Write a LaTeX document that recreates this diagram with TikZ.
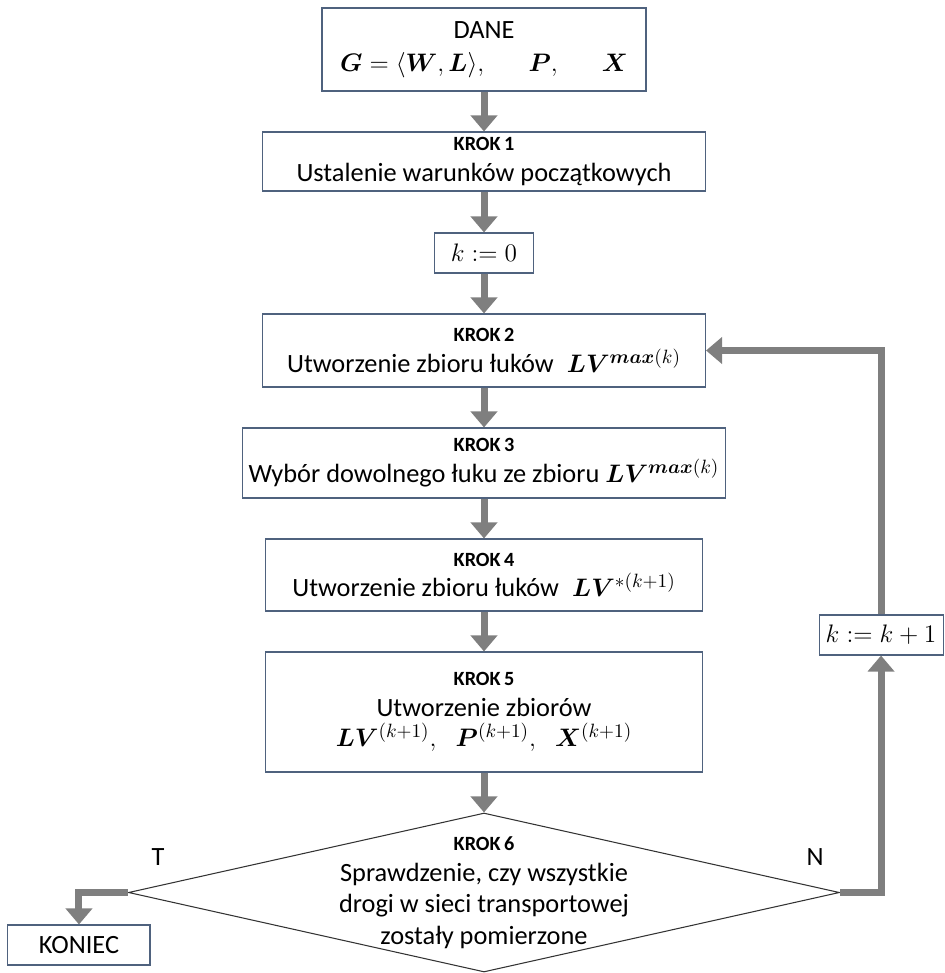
\documentclass[tikz,border=0pt]{standalone}
\usepackage{amsmath,bm}
\usepackage{fontspec}
\setmainfont{Carlito}
\usetikzlibrary{shapes.geometric}
\usetikzlibrary{arrows.meta}
\usetikzlibrary{calc}

\definecolor{ramka}{RGB}{79,98,126}
\definecolor{szary}{RGB}{127,127,127}
\newcommand{\kroknr}[1]{{\fontsize{11.5}{13}\selectfont\bfseries KROK\,#1}}
\newcommand{\wzor}{\fontsize{15}{18}\selectfont}

\begin{document}
\begin{tikzpicture}[
        krok/.style={draw=ramka, line width=0.6pt, rectangle, align=center,
            inner sep=1mm, font=\fontsize{15}{17.5}\selectfont},
        strz/.style={draw=szary, line width=0.14cm,
            -{Triangle[width=0.52cm,length=0.32cm]}},
        opis/.style={align=center, font=\fontsize{15}{17.8}\selectfont}
    ]
        \useasboundingbox (0,0) rectangle (18.88,-19.46);
        % kolumna glowna
        \node[krok, minimum width=6.48cm, minimum height=1.66cm] (dane)
            at (9.68,-0.99) {DANE\\[1pt] \wzor $\bm{G}=\langle\bm{W},\bm{L}\rangle,
            \hspace{0.8cm}\bm{P},\hspace{0.8cm}\bm{X}$};
        \node[krok, minimum width=8.86cm, minimum height=1.18cm,
            node distance=2.24cm, below of=dane] (k1)
            {\kroknr{1}\\ Ustalenie warunków początkowych};
        \node[krok, minimum width=1.98cm, minimum height=0.8cm,
            node distance=1.83cm, below of=k1] (k0) {\wzor $k:=0$};
        \node[krok, minimum width=8.86cm, minimum height=1.46cm,
            node distance=1.95cm, below of=k0] (k2)
            {\kroknr{2}\\ Utworzenie zbioru łuków\enspace \wzor $\bm{LV}^{\bm{max}(k)}$};
        \node[krok, minimum width=9.66cm, minimum height=1.4cm,
            node distance=2.25cm, below of=k2] (k3)
            {\kroknr{3}\\ Wybór dowolnego łuku ze zbioru \wzor $\bm{LV}^{\bm{max}(k)}$};
        \node[krok, minimum width=8.74cm, minimum height=1.44cm,
            node distance=2.24cm, below of=k3] (k4)
            {\kroknr{4}\\ Utworzenie zbioru łuków\enspace \wzor $\bm{LV}^{*(k+1)}$};
        \node[krok, minimum width=8.74cm, minimum height=2.4cm,
            node distance=2.74cm, below of=k4] (k5)
            {\kroknr{5}\\ Utworzenie zbiorów\\ \wzor $\bm{LV}^{(k+1)},\hspace{0.3cm}
            \bm{P}^{(k+1)},\hspace{0.3cm}\bm{X}^{(k+1)}$};
        \node[diamond, draw=black!80, line width=0.6pt, inner sep=0pt,
            minimum width=14.22cm, minimum height=3.18cm,
            node distance=3.61cm, below of=k5] (k6) {};
        \node[opis] (k6tekst) at (k6.center)
            {\kroknr{6}\\ Sprawdzenie, czy wszystkie\\ drogi w sieci transportowej\\
            zostały pomierzone};
        % odgalezienia
        \node[krok, minimum width=2.84cm, minimum height=0.8cm] (kon)
            at ($(k6.west)+(-0.98,-1.05)$) {KONIEC};
        \node[krok, minimum width=2.48cm, minimum height=0.8cm] (kk)
            at ($(k6.east)+(0.82,5.15)$) {\wzor $k:=k+1$};
        \node[opis] (t) at ($(k6.west)+(0.6,0.71)$) {T};
        \node[opis] (n) at ($(k6.east)+(-0.5,0.71)$) {N};

        \foreach \a/\b in {dane/k1, k1/k0, k0/k2, k2/k3, k3/k4, k4/k5, k5/k6}
            \draw[strz] (\a) -- (\b);
        \draw[strz] (k6.east) -| (kk.south);
        \draw[strz] (kk.north) |- (k2.east);
        \draw[strz] (k6.west) -| (kon.north);
    \end{tikzpicture}
\end{document}
